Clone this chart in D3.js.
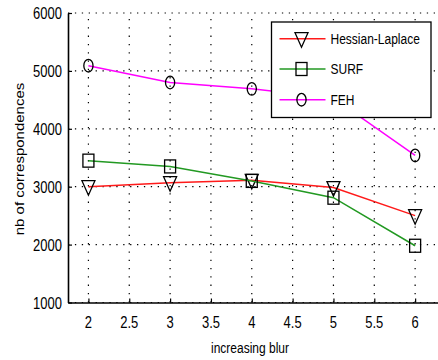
<!DOCTYPE html>
<html>
<head>
<meta charset="utf-8">
<script src="https://cdn.jsdelivr.net/npm/d3@7"></script>
<style>
  html, body { margin: 0; padding: 0; background: #fff; }
  svg { display: block; }
  text { font-family: "Liberation Sans", Arial, Helvetica, sans-serif; fill: #000; }
</style>
</head>
<body>
<svg id="chart" width="438" height="360"></svg>
<script>
// Number of correspondences found under increasing blur
const blurLevels = [2, 3, 4, 5, 6];
const hessianLaplace = [3000, 3070, 3110, 2985, 2500];
const surf = [3450, 3350, 3100, 2810, 1980];
const feh = [5090, 4800, 4690, 4530, 3540];

const xTicks = [2, 2.5, 3, 3.5, 4, 4.5, 5, 5.5, 6];
const yTicks = [1000, 2000, 3000, 4000, 5000, 6000];

const seriesNames = ["Hessian-Laplace", "SURF", "FEH"];
const seriesValues = [hessianLaplace, surf, feh];
const seriesColors = ["#ff1a1a", "#229922", "#ff00ff"];
const seriesMarkers = ["triangle", "square", "circle"];

const svg = d3.select("#chart");
const SY = 1.25; // vertical stretch of the figure

const x = d3.scaleLinear().domain([1.75, 6.28]).range([68, 438]);
const y = d3.scaleLinear().domain([1000, 6000]).range([302.5, 13]);

// dotted grid
const grid = svg.append("g");
grid.selectAll("line.vx").data(xTicks).join("line")
  .attr("x1", d => x(d)).attr("x2", d => x(d))
  .attr("y1", y(1000)).attr("y2", y(6000))
  .attr("stroke", "#000").attr("stroke-width", 1.2)
  .attr("stroke-dasharray", "1.3,7");
grid.selectAll("line.hy").data(yTicks).join("line")
  .attr("x1", x(1.75)).attr("x2", 438)
  .attr("y1", d => y(d)).attr("y2", d => y(d))
  .attr("stroke", "#000").attr("stroke-width", 1.2)
  .attr("stroke-dasharray", "1.3,5.6");

// marker shapes
function drawMarker(g, type, cx, cy) {
  if (type === "triangle") {
    g.append("path")
      .attr("d", `M${cx - 6.5},${cy - 6} L${cx + 6.5},${cy - 6} L${cx},${cy + 8.5} Z`)
      .attr("fill", "none").attr("stroke", "#000").attr("stroke-width", 1.3);
  } else if (type === "square") {
    g.append("rect")
      .attr("x", cx - 5.5).attr("y", cy - 6.5).attr("width", 11).attr("height", 13)
      .attr("fill", "none").attr("stroke", "#000").attr("stroke-width", 1.3);
  } else {
    g.append("ellipse")
      .attr("cx", cx).attr("cy", cy).attr("rx", 4.6).attr("ry", 6.3)
      .attr("fill", "none").attr("stroke", "#000").attr("stroke-width", 1.3);
  }
}

// series lines and markers
const line = d3.line().x((d, i) => x(blurLevels[i])).y(d => y(d));
seriesValues.forEach((vals, s) => {
  const g = svg.append("g");
  g.append("path").datum(vals)
    .attr("d", line)
    .attr("fill", "none")
    .attr("stroke", seriesColors[s])
    .attr("stroke-width", 1.5);
  vals.forEach((v, i) => drawMarker(g, seriesMarkers[s], x(blurLevels[i]), y(v)));
});

// axes
const xAxis = svg.append("g").attr("transform", `translate(0,${y(1000)})`)
  .call(d3.axisBottom(x).tickValues(xTicks).tickSizeInner(-4).tickSizeOuter(0).tickFormat(() => ""));
const yAxis = svg.append("g").attr("transform", `translate(${x(1.75)},0)`)
  .call(d3.axisLeft(y).tickValues(yTicks).tickSizeInner(-4).tickSizeOuter(0).tickFormat(() => ""));
[xAxis, yAxis].forEach(a => {
  a.select(".domain").attr("stroke", "#000").attr("stroke-width", 1.6);
  a.selectAll(".tick line").attr("stroke", "#000").attr("stroke-width", 1.2);
});

// tick labels (stretched vertically)
svg.append("g").selectAll("text").data(xTicks).join("text")
  .attr("transform", d => `translate(${x(d)},328) scale(1,${SY})`)
  .attr("text-anchor", "middle")
  .style("font-size", "13px")
  .text(d => d3.format("")(d));
svg.append("g").selectAll("text").data(yTicks).join("text")
  .attr("transform", d => `translate(62,${y(d) + 6}) scale(1,${SY})`)
  .attr("text-anchor", "end")
  .style("font-size", "13px")
  .text(d => d);

// axis titles
svg.append("text")
  .attr("transform", `translate(250,353) scale(1,${SY})`)
  .attr("text-anchor", "middle")
  .style("font-size", "12px")
  .text("increasing blur");
svg.append("text")
  .attr("transform", `translate(24,159) scale(1,${SY}) rotate(-90)`)
  .attr("text-anchor", "middle")
  .style("font-size", "12px")
  .text("nb of correspondences");

// legend
const legend = svg.append("g");
legend.append("rect")
  .attr("x", 271.5).attr("y", 22).attr("width", 159.5).attr("height", 95.5)
  .attr("fill", "#fff").attr("stroke", "#000").attr("stroke-width", 1.3);
const legendY = [38.7, 69, 99.7];
seriesNames.forEach((name, s) => {
  const ly = legendY[s];
  legend.append("line")
    .attr("x1", 279.5).attr("x2", 325.5).attr("y1", ly).attr("y2", ly)
    .attr("stroke", seriesColors[s]).attr("stroke-width", 1.5);
  drawMarker(legend, seriesMarkers[s], 301.5, ly);
  legend.append("text")
    .attr("transform", `translate(330.5,${ly + 5.4}) scale(1,${SY})`)
    .style("font-size", "12px")
    .text(name);
});
</script>
</body>
</html>
